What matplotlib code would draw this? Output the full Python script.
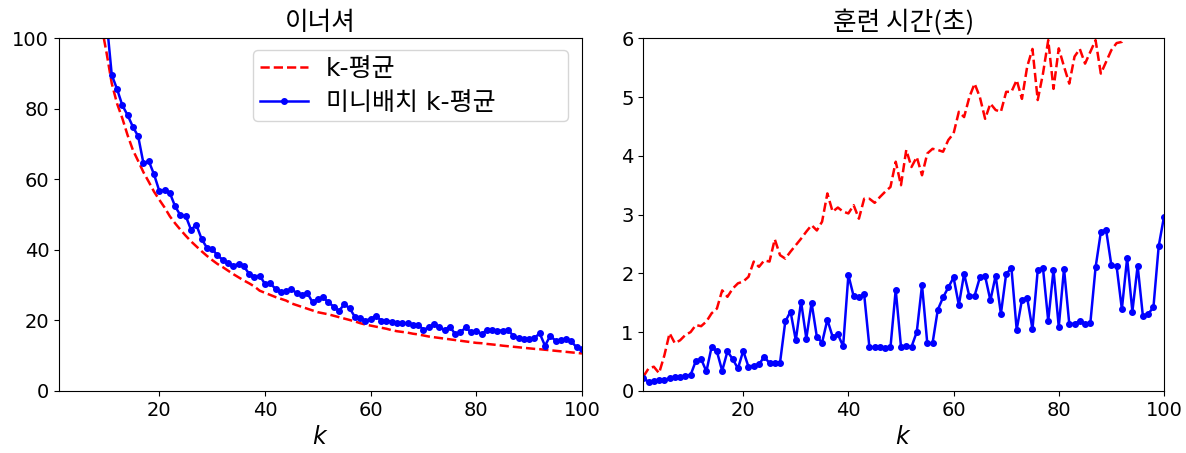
import matplotlib
matplotlib.use("Agg")
import matplotlib.pyplot as plt

plt.rcParams['font.family'] = ['DejaVu Sans', 'Noto Sans CJK KR']

ks = list(range(1, 101))

kmeans_inertia = [
    3534, 1150, 653, 262, 212, 170, 145, 125, 104, 96,
    87.2, 81.5, 77.3, 72.5, 68.3, 65.2, 62.0, 59.3, 56.5, 54.2,
    52.0, 49.5, 47.5, 45.7, 44.0, 42.4, 41.0, 39.6, 38.3, 37.1,
    36.0, 35.1, 34.1, 33.1, 32.2, 31.3, 30.5, 29.6, 28.4, 27.8,
    27.2, 26.6, 26.1, 25.6, 24.8, 24.3, 23.8, 23.3, 22.8, 22.3,
    22.0, 21.7, 21.3, 20.9, 20.5, 20.1, 19.7, 19.2, 18.8, 18.5,
    18.2, 17.9, 17.6, 17.2, 16.9, 16.7, 16.5, 16.2, 16.0, 15.7,
    15.4, 15.2, 15.0, 14.8, 14.6, 14.4, 14.2, 14.0, 13.8, 13.6,
    13.5, 13.3, 13.15, 13.0, 12.8, 12.65, 12.5, 12.35, 12.2, 12.05,
    11.9, 11.8, 11.65, 11.5, 11.35, 11.2, 11.05, 10.9, 10.75, 10.6,
]

minibatch_inertia = [
    3550, 1160, 665, 268, 218, 178, 152, 130, 116, 105.3,
    89.6, 85.6, 81.0, 78.2, 74.9, 72.2, 64.5, 65.2, 61.4, 56.7,
    56.9, 56.1, 52.3, 49.8, 49.6, 45.7, 47.1, 43.1, 40.6, 40.3,
    38.4, 37.2, 36.2, 35.5, 36.0, 35.3, 33.2, 32.4, 32.7, 30.3,
    30.5, 28.9, 28.1, 28.2, 28.9, 27.7, 27.3, 27.8, 25.1, 26.1,
    26.5, 25.1, 23.9, 22.7, 24.5, 23.5, 21.0, 20.7, 19.9, 20.4,
    21.3, 19.9, 19.9, 19.6, 19.3, 19.1, 19.1, 18.8, 18.8, 17.3,
    18.0, 19.0, 18.0, 17.3, 18.2, 16.1, 16.6, 18.0, 16.6, 17.1,
    16.1, 17.3, 17.3, 17.1, 17.1, 17.3, 15.6, 15.0, 14.7, 14.7,
    15.0, 16.3, 12.8, 15.6, 14.2, 14.4, 14.7, 14.0, 12.3, 11.8,
]

kmeans_time = [
    0.24, 0.38, 0.41, 0.30, 0.60, 0.98, 0.81, 0.86, 0.95, 1.00,
    1.12, 1.10, 1.18, 1.32, 1.40, 1.71, 1.60, 1.74, 1.83, 1.86,
    1.94, 2.20, 2.11, 2.22, 2.20, 2.58, 2.31, 2.25, 2.37, 2.48,
    2.59, 2.71, 2.82, 2.73, 2.88, 3.36, 3.05, 3.12, 3.05, 3.02,
    3.16, 2.93, 3.27, 3.27, 3.20, 3.30, 3.39, 3.47, 3.90, 3.50,
    4.10, 3.81, 3.98, 3.67, 4.04, 4.12, 4.10, 4.07, 4.27, 4.38,
    4.75, 4.66, 5.00, 5.23, 5.00, 4.63, 4.89, 4.78, 4.75, 5.09,
    5.09, 5.29, 4.97, 5.52, 5.82, 4.95, 5.40, 5.97, 5.14, 5.83,
    5.52, 5.23, 5.69, 5.82, 5.57, 5.77, 5.97, 5.40, 5.60, 5.80,
    5.92, 5.94, 6.10, 6.20, 6.30, 6.15, 6.40, 6.30, 6.50, 6.45,
]

minibatch_time = [
    0.21, 0.155, 0.17, 0.18, 0.19, 0.21, 0.24, 0.23, 0.25, 0.27,
    0.51, 0.54, 0.33, 0.75, 0.67, 0.34, 0.67, 0.54, 0.38, 0.68,
    0.41, 0.43, 0.45, 0.58, 0.47, 0.47, 0.48, 1.18, 1.35, 0.86,
    1.52, 0.89, 1.50, 0.92, 0.82, 1.21, 0.92, 0.96, 0.76, 1.97,
    1.61, 1.59, 1.64, 0.74, 0.74, 0.74, 0.73, 0.74, 1.72, 0.75,
    0.77, 0.75, 1.00, 1.80, 0.81, 0.81, 1.38, 1.59, 1.76, 1.93,
    1.46, 1.99, 1.61, 1.62, 1.93, 1.95, 1.54, 1.96, 1.31, 1.99,
    2.09, 1.04, 1.55, 1.58, 1.05, 2.05, 2.09, 1.19, 2.06, 1.09,
    2.08, 1.14, 1.14, 1.19, 1.14, 1.15, 2.10, 2.70, 2.74, 2.14,
    2.12, 1.39, 2.26, 1.35, 2.13, 1.27, 1.31, 1.42, 2.46, 2.96,
]

label_km = "k-평균"
label_mb = "미니배치 k-평균"
title_left = "이너셔"
title_right = "훈련 시간(초)"

fig = plt.figure(figsize=(11.86, 4.53), dpi=100)
ax1 = fig.add_axes([0.0497, 0.1373, 0.441, 0.778])
ax2 = fig.add_axes([0.5424, 0.1373, 0.439, 0.778])

lw = 1.8
ms = 8
kor = ['Noto Sans CJK KR', 'DejaVu Sans']

ax1.plot(ks, kmeans_inertia, "r--", lw=lw, label=label_km)
ax1.plot(ks, minibatch_inertia, "b.-", lw=lw, ms=ms, label=label_mb)
ax1.set_xlim(1, 100)
ax1.set_ylim(0, 100)
ax1.set_title(title_left, fontsize=18.5, family=kor)
ax1.set_xlabel("$k$", fontsize=17)
ax1.legend(loc="upper left", bbox_to_anchor=(0.371, 0.748, 0.602, 0.219),
           mode="expand", borderaxespad=0,
           prop={'family': ['DejaVu Sans', 'Noto Sans CJK KR'], 'size': 18},
           labelspacing=0.4, borderpad=0.27, handlelength=1.92,
           handletextpad=0.72)

ax2.plot(ks, kmeans_time, "r--", lw=lw, label=label_km)
ax2.plot(ks, minibatch_time, "b.-", lw=lw, ms=ms, label=label_mb)
ax2.set_xlim(1, 100)
ax2.set_ylim(0, 6)
ax2.set_title(title_right, fontsize=18.5, family=kor)
ax2.set_xlabel("$k$", fontsize=17)

for ax in (ax1, ax2):
    ax.tick_params(labelsize=14)
    ax.set_xticks([20, 40, 60, 80, 100])

fig.savefig("out.png", dpi=100)
